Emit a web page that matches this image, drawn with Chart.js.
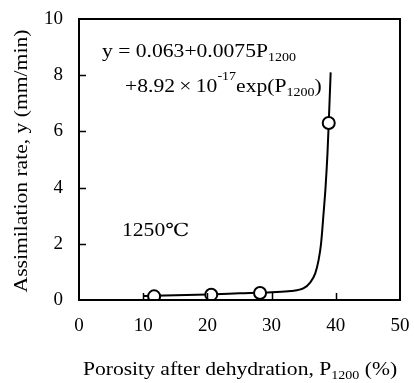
<!DOCTYPE html>
<html>
<head>
<meta charset="utf-8">
<script src="https://cdn.jsdelivr.net/npm/chart.js@4.4.0/dist/chart.umd.min.js"></script>
<style>
  html, body { margin:0; padding:0; background:#fff; }
  #wrap { width:414px; height:383px; position:relative; }
</style>
</head>
<body>
<div id="wrap"><canvas id="chart" width="414" height="383"></canvas></div>
<script>
// measured points (circles)
const pointX = [11.7, 20.6, 28.2, 38.9];
const pointY = [0.13, 0.19, 0.25, 6.3];

// fitted curve
const fitX = [10.1, 15, 20, 25, 30, 33, 35, 36, 36.8, 37.3, 37.7, 38.1, 38.4, 38.7, 38.9, 39.2];
const fitY = [0.14, 0.17, 0.2, 0.24, 0.28, 0.32, 0.42, 0.62, 0.95, 1.4, 2.0, 3.1, 4.0, 5.2, 6.3, 8.1];

const xTicks = [0, 10, 20, 30, 40, 50];
const yTicks = [0, 2, 4, 6, 8, 10];

const FONT = '"Liberation Serif", "DejaVu Serif", serif';
const SX = 1.2; // the scanned text is wider than it is tall

// width of a run of normal / sub / sup parts (unscaled)
function richWidth(ctx, parts, size) {
  let w = 0;
  parts.forEach(([t, m]) => {
    ctx.font = `${m === 'n' ? size : size * 0.65}px ${FONT}`;
    w += ctx.measureText(t).width;
  });
  return w;
}

// draws the parts at (x, y), stretched by SX horizontally
function drawRich(ctx, parts, x, y, size) {
  ctx.save();
  ctx.translate(x, y);
  ctx.scale(SX, 1);
  let cx = 0;
  parts.forEach(([txt, mode]) => {
    let s = size, dy = 0;
    if (mode === 'sub') { s = size * 0.65; dy = size * 0.22; }
    if (mode === 'sup') { s = size * 0.65; dy = -size * 0.68; }
    ctx.font = `${s}px ${FONT}`;
    ctx.fillText(txt, cx, dy);
    cx += ctx.measureText(txt).width;
  });
  ctx.restore();
}

const decor = {
  id: 'decor',
  afterDraw(chart) {
    const { ctx, chartArea: a, scales: { x, y } } = chart;
    ctx.save();
    ctx.strokeStyle = '#000';
    ctx.lineWidth = 2;
    ctx.strokeRect(a.left, a.top, a.right - a.left, a.bottom - a.top);

    // inward ticks
    ctx.lineWidth = 1.5;
    ctx.beginPath();
    yTicks.slice(1, -1).forEach(v => {
      const py = Math.round(y.getPixelForValue(v)) + 0.5;
      ctx.moveTo(a.left, py); ctx.lineTo(a.left + 7, py);
    });
    xTicks.slice(1, -1).forEach(v => {
      const px = Math.round(x.getPixelForValue(v)) + 0.5;
      ctx.moveTo(px, a.bottom); ctx.lineTo(px, a.bottom - 7);
    });
    ctx.stroke();

    ctx.fillStyle = '#000';
    ctx.textBaseline = 'alphabetic';
    ctx.textAlign = 'left';
    drawRich(ctx, [['y = 0.063+0.0075P', 'n'], ['1200', 'sub']], 102, 57, 18);
    drawRich(ctx, [['+8.92\u2009\u00d7\u200910', 'n'], ['-17', 'sup'], ['exp(P', 'n'], ['1200', 'sub'], [')', 'n']], 125, 92, 18);
    drawRich(ctx, [['1250\u2103', 'n']], 122, 236, 18);

    // x title
    const xParts = [['Porosity after dehydration, P', 'n'], ['1200', 'sub'], [' (%)', 'n']];
    const w = richWidth(ctx, xParts, 18) * SX;
    drawRich(ctx, xParts, 240 - w / 2, 375, 18);

    // y title
    ctx.translate(27, 161);
    ctx.rotate(-Math.PI / 2);
    ctx.scale(SX, 1);
    ctx.textAlign = 'center';
    ctx.font = `18px ${FONT}`;
    ctx.fillText('Assimilation rate, y (mm/min)', 0, 0);
    ctx.restore();
  }
};

new Chart(document.getElementById('chart'), {
  type: 'line',
  data: {
    datasets: [
      {
        label: 'fit',
        data: fitX.map((v, i) => ({ x: v, y: fitY[i] })),
        borderColor: '#000',
        borderWidth: 2,
        pointRadius: 0,
        cubicInterpolationMode: 'monotone',
        fill: false,
        order: 2
      },
      {
        label: 'measured',
        data: pointX.map((v, i) => ({ x: v, y: pointY[i] })),
        showLine: false,
        pointRadius: 6,
        pointBorderWidth: 2,
        pointBackgroundColor: '#fff',
        pointBorderColor: '#000',
        order: 1
      }
    ]
  },
  options: {
    responsive: false,
    animation: false,
    layout: { padding: { left: 0, top: 19, right: 14, bottom: 0 } },
    plugins: { legend: { display: false }, tooltip: { enabled: false } },
    scales: {
      x: {
        type: 'linear', min: 0, max: 50,
        afterBuildTicks: s => { s.ticks = xTicks.map(v => ({ value: v })); },
        afterFit: s => { s.height = 83; s.paddingLeft = 0; s.paddingRight = 0; },
        grid: { display: false, drawTicks: false },
        border: { display: false },
        ticks: { color: '#000', padding: 15, font: { family: FONT, size: 19 } }
      },
      y: {
        type: 'linear', min: 0, max: 10,
        afterBuildTicks: s => { s.ticks = yTicks.map(v => ({ value: v })); },
        afterFit: s => { s.width = 79; s.paddingTop = 0; s.paddingBottom = 0; },
        grid: { display: false, drawTicks: false },
        border: { display: false },
        ticks: { color: '#000', padding: 16, font: { family: FONT, size: 19 } }
      }
    }
  },
  plugins: [decor]
});
</script>
</body>
</html>
